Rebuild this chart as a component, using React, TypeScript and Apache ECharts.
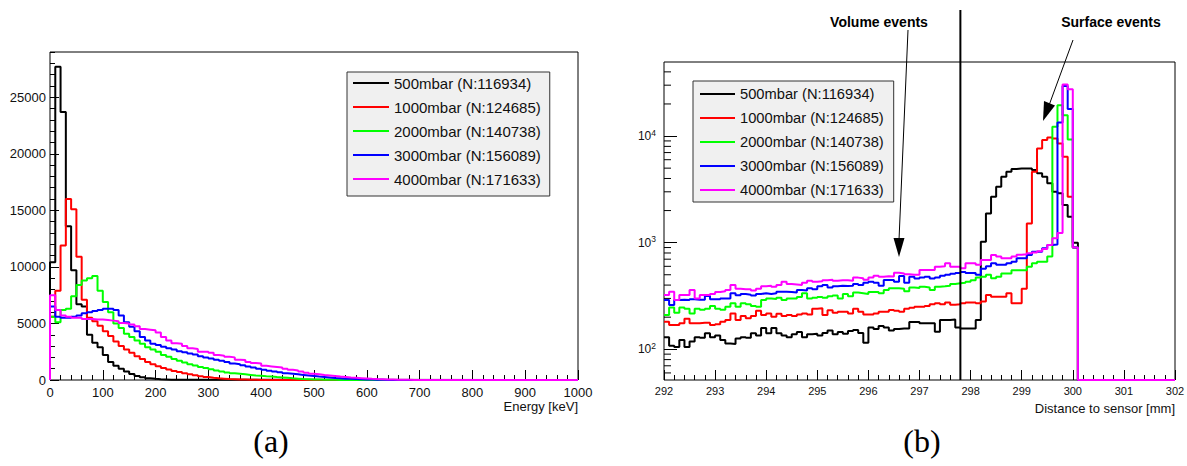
import React, { useEffect, useRef } from 'react';
import * as echarts from 'echarts';

// ---------- legend / series names ----------
const seriesNames = [
  '500mbar (N:116934)',
  '1000mbar (N:124685)',
  '2000mbar (N:140738)',
  '3000mbar (N:156089)',
  '4000mbar (N:171633)',
];
const seriesColors = ['#000000', '#ff0000', '#00ff00', '#0000ff', '#ff00ff'];

// ---------- panel (a): energy histograms, 10 keV bins starting at 0 keV ----------
const energyBinWidth = 10;
const energyBlack = [10400, 27700, 23700, 13600, 9700, 6700, 6500, 4000, 3300, 2900, 2200, 1600, 1250, 1000, 750, 530, 350, 240, 150, 100, 70, 50, 30, 20];
const energyRed = [5600, 7900, 11900, 16000, 15100, 10900, 7100, 5500, 5200, 4800, 4300, 3900, 3400, 3000, 2700, 2400, 2100, 1850, 1600, 1400, 1220, 1060, 920, 800, 700, 600, 500, 410, 330, 260, 200, 150, 120, 90, 70, 50, 40, 30, 20, 10];
const energyGreen = [5600, 5100, 6200, 6300, 7400, 8400, 8800, 9000, 9200, 7900, 6900, 6000, 5000, 4600, 4100, 3800, 3500, 3200, 2900, 2700, 2500, 2200, 2050, 1850, 1700, 1550, 1400, 1280, 1150, 1050, 950, 850, 750, 670, 600, 550, 500, 450, 400, 370, 330, 300, 260, 230, 190, 150, 120, 90, 70, 50, 40, 30, 20, 15, 10];
const energyBlue = [6500, 5600, 5500, 5500, 5600, 5700, 5900, 6000, 6100, 6200, 6300, 6300, 6200, 5700, 5100, 4700, 4300, 3800, 3500, 3200, 3100, 2950, 2800, 2700, 2550, 2450, 2350, 2250, 2100, 2000, 1900, 1800, 1700, 1600, 1450, 1400, 1300, 1200, 1100, 1000, 900, 820, 750, 680, 600, 550, 500, 450, 400, 350, 300, 260, 220, 180, 150, 120, 100, 80, 60, 50, 40, 30, 20, 10];
const energyMagenta = [7500, 6200, 5700, 5600, 5500, 5500, 5400, 5400, 5350, 5350, 5300, 5250, 5200, 5050, 5000, 4900, 4750, 4500, 4450, 4400, 4200, 3800, 3500, 3250, 3200, 3000, 2800, 2750, 2500, 2500, 2400, 2200, 2150, 2060, 2000, 1800, 1770, 1600, 1500, 1450, 1250, 1200, 1150, 1100, 1000, 900, 850, 750, 650, 550, 500, 440, 400, 350, 300, 260, 220, 190, 160, 130, 100, 80, 70, 50, 40, 30, 20, 15, 10];

// ---------- panel (b): distance histograms, 0.1 mm bins from 292.0 to 300.0 mm ----------
const distStart = 292;
const distBinWidth = 0.1;
const distBlack = [
  130, 108, 105, 122, 105, 118, 130, 128, 141, 130,
  135, 122, 113, 112, 126, 130, 128, 141, 135, 158,
  141, 158, 141, 135, 130, 138, 145, 130, 138, 140,
  135, 142, 150, 138, 145, 140, 148, 152, 142, 115,
  160, 155, 165, 160, 150, 155, 157, 157, 180, 180,
  175, 175, 175, 146, 188, 188, 190, 160, 157, 157,
  157, 188, 1020, 1880, 2700, 3340, 4150, 4620, 4900, 4970,
  4970, 4970, 4800, 4470, 4150, 3600, 3000, 2900, 2250, 1750,
  1000,
];
const distRed = [
  181, 169, 169, 175, 193, 175, 175, 177, 177, 169,
  172, 181, 188, 217, 188, 205, 195, 205, 230, 210,
  217, 202, 215, 205, 210, 205, 212, 217, 212, 240,
  242, 210, 232, 220, 225, 225, 217, 240, 225, 212,
  212, 217, 225, 225, 234, 230, 225, 240, 245, 251,
  251, 255, 265, 270, 265, 275, 262, 265, 270, 275,
  275, 270, 280, 323, 311, 311, 311, 335, 270, 270,
  370, 1510, 4620, 7650, 9160, 9700, 9500, 8500, 6400, 2700,
  900,
];
const distGreen = [
  210, 247, 220, 247, 240, 217, 240, 235, 240, 255,
  240, 235, 250, 270, 250, 270, 265, 255, 250, 290,
  300, 296, 305, 290, 300, 300, 310, 335, 300, 305,
  310, 305, 315, 320, 300, 330, 315, 340, 335, 330,
  345, 345, 335, 360, 373, 373, 370, 350, 380, 375,
  385, 380, 360, 386, 390, 395, 410, 416, 420, 430,
  445, 470, 480, 500, 463, 480, 515, 515, 550, 550,
  550, 595, 640, 663, 663, 740, 12200, 19500, 15700, 9300,
  900,
];
const distBlue = [
  290, 260, 290, 292, 290, 295, 292, 292, 316, 295,
  295, 300, 300, 335, 322, 330, 325, 320, 330, 335,
  330, 335, 347, 347, 345, 340, 360, 355, 373, 365,
  390, 401, 380, 390, 395, 392, 395, 410, 401, 420,
  431, 420, 395, 446, 446, 430, 487, 420, 480, 460,
  470, 480, 460, 470, 490, 500, 510, 520, 530, 520,
  520, 500, 570, 600, 640, 620, 620, 640, 663, 713,
  713, 766, 822, 822, 885, 950, 960, 13400, 29500, 17900,
  900,
];
const distMagenta = [
  323, 347, 290, 323, 323, 360, 300, 323, 323, 330,
  345, 350, 360, 401, 370, 365, 365, 355, 370, 390,
  395, 385, 400, 431, 410, 405, 400, 420, 440, 430,
  435, 445, 450, 440, 445, 445, 440, 470, 463, 450,
  470, 490, 480, 485, 482, 522, 515, 505, 500, 500,
  553, 553, 553, 595, 600, 640, 595, 595, 574, 640,
  640, 620, 687, 687, 766, 740, 713, 713, 740, 770,
  780, 795, 810, 830, 870, 950, 1100, 1230, 30500, 27500,
  900,
];

// ---------- axis settings / tick values ----------
const energyAxis = { min: 0, max: 1000, interval: 100 };
const countAxis = { min: 0, max: 29000, interval: 5000, minorInterval: 1000 };
const distAxis = { min: 292, max: 302, interval: 1 };
const logAxis = { min: 51.5, max: 49500 };
const logMinorTicks = [60, 70, 80, 90, 200, 300, 400, 500, 600, 700, 800, 900, 2000, 3000, 4000, 5000, 6000, 7000, 8000, 9000, 20000, 30000, 40000];
const volumeBoundary = 297.8; // mm

const FONT = 'Liberation Sans, Arial, Helvetica, sans-serif';

function energyPoints(vals: number[]) {
  const pts: number[][] = [[0, 0]];
  vals.forEach((v, i) => pts.push([i * energyBinWidth, v]));
  pts.push([vals.length * energyBinWidth, 0]);
  pts.push([energyAxis.max, 0]);
  return pts;
}

function distPoints(vals: number[]) {
  const pts: number[][] = vals.map((v, i) => [
    Math.round((distStart + i * distBinWidth) * 10) / 10,
    v > 0 ? v : logAxis.min,
  ]);
  pts.push([Math.round((distStart + vals.length * distBinWidth) * 10) / 10, logAxis.min]);
  pts.push([distAxis.max, logAxis.min]);
  return pts;
}

export default function App() {
  const ref = useRef<HTMLDivElement>(null);

  useEffect(() => {
    if (!ref.current) return;
    const chart = echarts.init(ref.current, null, { renderer: 'svg' });

    const energySets = [energyBlack, energyRed, energyGreen, energyBlue, energyMagenta];
    const distSets = [distBlack, distRed, distGreen, distBlue, distMagenta];

    const tickStyle = { color: '#000', width: 1 };
    const labelBase = { color: '#111', fontFamily: FONT };
    const plain = (v: number) => String(Math.round(v * 1000) / 1000);

    const leftSeries = energySets.map((vals, k) => ({
      name: seriesNames[k],
      type: 'line',
      xAxisIndex: 0,
      yAxisIndex: 0,
      step: 'end',
      showSymbol: false,
      symbol: 'none',
      clip: false,
      silent: true,
      data: energyPoints(vals),
      itemStyle: { color: seriesColors[k] },
      lineStyle: { color: seriesColors[k], width: 2 },
      z: 2 + k,
    }));

    const rightSeries = distSets.map((vals, k) => ({
      name: seriesNames[k],
      type: 'line',
      xAxisIndex: 1,
      yAxisIndex: 2,
      step: 'end',
      showSymbol: false,
      symbol: 'none',
      clip: false,
      silent: true,
      data: distPoints(vals),
      itemStyle: { color: seriesColors[k] },
      lineStyle: { color: seriesColors[k], width: 2 },
      z: 2 + k,
    }));

    const minorTickSeries = {
      type: 'custom',
      coordinateSystem: 'cartesian2d',
      xAxisIndex: 1,
      yAxisIndex: 2,
      silent: true,
      clip: false,
      data: logMinorTicks.map((v) => [distAxis.min, v]),
      encode: { x: 0, y: 1 },
      renderItem: (params: any, api: any) => {
        const p = api.coord([api.value(0), api.value(1)]);
        return {
          type: 'line',
          shape: { x1: p[0], y1: p[1], x2: p[0] + 7, y2: p[1] },
          style: { stroke: '#000', lineWidth: 1 },
        };
      },
      z: 10,
    };

    const legendCommon = {
      orient: 'vertical',
      data: seriesNames,
      icon: 'rect',
      itemWidth: 36,
      itemHeight: 2,
      selectedMode: false,
      backgroundColor: '#f0f0f0',
      borderColor: '#333',
      borderWidth: 1,
      borderRadius: 0,
      itemStyle: { borderWidth: 0 },
    };

    const option: any = {
      animation: false,
      backgroundColor: '#ffffff',
      textStyle: { fontFamily: FONT },
      grid: [
        { left: 50, top: 52, width: 528, height: 328, show: true, borderColor: '#000', borderWidth: 1, backgroundColor: 'transparent', outerBoundsMode: 'none' },
        { left: 664, top: 62, width: 511, height: 318, show: true, borderColor: '#000', borderWidth: 1, backgroundColor: 'transparent', outerBoundsMode: 'none' },
      ],
      legend: [
        {
          ...legendCommon,
          left: 347,
          top: 72,
          itemGap: 8,
          padding: [3, 9, 9, 6],
          textStyle: { fontSize: 15, lineHeight: 16, color: '#111', fontFamily: FONT },
        },
        {
          ...legendCommon,
          left: 693,
          top: 81,
          itemGap: 8,
          padding: [5, 10, 4, 7],
          itemWidth: 35,
          textStyle: { fontSize: 14.7, lineHeight: 16, color: '#111', fontFamily: FONT },
        },
      ],
      xAxis: [
        {
          type: 'value',
          gridIndex: 0,
          min: energyAxis.min,
          max: energyAxis.max,
          interval: energyAxis.interval,
          axisLine: { show: false },
          splitLine: { show: false },
          axisTick: { show: true, inside: true, length: 10, lineStyle: tickStyle },
          minorTick: { show: true, splitNumber: 5, length: 5, lineStyle: tickStyle },
          minorSplitLine: { show: false },
          axisLabel: { ...labelBase, fontSize: 13, margin: 6, formatter: plain },
        },
        {
          type: 'value',
          gridIndex: 1,
          min: distAxis.min,
          max: distAxis.max,
          interval: distAxis.interval,
          axisLine: { show: false },
          splitLine: { show: false },
          axisTick: { show: true, inside: true, length: 10, lineStyle: tickStyle },
          minorTick: { show: true, splitNumber: 5, length: 5, lineStyle: tickStyle },
          minorSplitLine: { show: false },
          axisLabel: { ...labelBase, fontSize: 11, margin: 5, formatter: plain },
        },
      ],
      yAxis: [
        {
          type: 'value',
          gridIndex: 0,
          position: 'left',
          min: countAxis.min,
          max: countAxis.max,
          interval: countAxis.interval,
          axisLine: { show: false },
          splitLine: { show: false },
          axisTick: { show: true, inside: true, length: 9, lineStyle: tickStyle },
          axisLabel: { ...labelBase, fontSize: 13, margin: 4, showMaxLabel: false, formatter: plain },
        },
        {
          type: 'value',
          gridIndex: 0,
          position: 'left',
          offset: 0,
          min: countAxis.min,
          max: countAxis.max,
          interval: countAxis.minorInterval,
          axisLine: { show: false },
          splitLine: { show: false },
          axisTick: { show: true, inside: true, length: 5, lineStyle: tickStyle },
          axisLabel: { show: false },
        },
        {
          type: 'log',
          logBase: 10,
          gridIndex: 1,
          position: 'left',
          min: logAxis.min,
          max: logAxis.max,
          axisLine: { show: false },
          splitLine: { show: false },
          axisTick: { show: true, inside: true, length: 13, lineStyle: tickStyle },
          axisLabel: {
            ...labelBase,
            margin: 8,
            showMinLabel: false,
            showMaxLabel: false,
            formatter: (v: number) => '{b|10}{s|' + Math.round(Math.log10(v)) + '}',
            rich: {
              b: { fontSize: 12, lineHeight: 16, color: '#111', fontFamily: FONT },
              s: { fontSize: 8.5, lineHeight: 9, verticalAlign: 'top', color: '#111', fontFamily: FONT },
            },
          },
        },
      ],
      series: [...leftSeries, ...rightSeries, minorTickSeries],
    };

    chart.setOption(option);

    const xLine = chart.convertToPixel({ xAxisIndex: 1 } as any, volumeBoundary) as unknown as number;
    const yBottom = chart.convertToPixel({ yAxisIndex: 2 } as any, logAxis.min) as unknown as number;

    chart.setOption({
      graphic: [
        { type: 'text', x: 578, y: 406, style: { text: 'Energy [keV]', font: `13px ${FONT}`, fill: '#111', align: 'right', verticalAlign: 'middle' } },
        { type: 'text', x: 1175, y: 408, style: { text: 'Distance to sensor [mm]', font: `13px ${FONT}`, fill: '#111', align: 'right', verticalAlign: 'middle' } },
        { type: 'text', x: 271, y: 441, style: { text: '(a)', font: '32px Liberation Serif, DejaVu Serif, serif', fill: '#000', align: 'center', verticalAlign: 'middle' } },
        { type: 'text', x: 922, y: 441, style: { text: '(b)', font: '32px Liberation Serif, DejaVu Serif, serif', fill: '#000', align: 'center', verticalAlign: 'middle' } },
        { type: 'text', x: 879, y: 22, style: { text: 'Volume events', font: `bold 14px ${FONT}`, fill: '#000', align: 'center', verticalAlign: 'middle' } },
        { type: 'text', x: 1111, y: 22, style: { text: 'Surface events', font: `bold 14px ${FONT}`, fill: '#000', align: 'center', verticalAlign: 'middle' } },
        { type: 'line', shape: { x1: xLine, y1: 10, x2: xLine, y2: yBottom }, style: { stroke: '#000', lineWidth: 2 }, z: 100 },
        { type: 'line', shape: { x1: 908, y1: 30, x2: 899, y2: 240 }, style: { stroke: '#000', lineWidth: 1 }, z: 100 },
        { type: 'polygon', shape: { points: [[899, 257], [893.5, 238], [904.5, 238]] }, style: { fill: '#000' }, z: 100 },
        { type: 'line', shape: { x1: 1073, y1: 40, x2: 1049.5, y2: 104 }, style: { stroke: '#000', lineWidth: 1 }, z: 100 },
        { type: 'polygon', shape: { points: [[1043, 121], [1044, 101], [1055, 105.5]] }, style: { fill: '#000' }, z: 100 },
      ],
    });

    return () => chart.dispose();
  }, []);

  return (
    <div
      ref={ref}
      style={{ position: 'absolute', left: 0, top: 0, width: 1187, height: 466, background: '#fff' }}
    />
  );
}
